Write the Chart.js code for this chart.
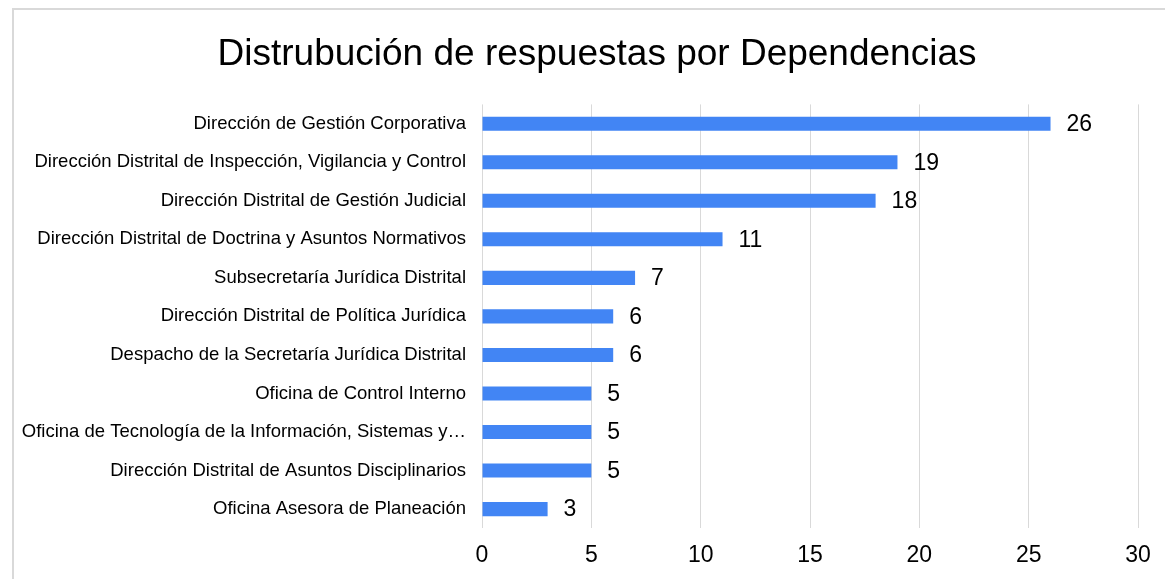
<!DOCTYPE html>
<html>
<head>
<meta charset="utf-8">
<script src="https://cdn.jsdelivr.net/npm/chart.js@4"></script>
<style>
	html, body { margin: 0; padding: 0; background: #fff; overflow: hidden; }
	.frame { position: absolute; left: 12px; top: 8px; width: 1200px; height: 620px; border: 2px solid #d9d9d9; box-sizing: border-box; }
	.chart { position: absolute; left: 0; top: 0; width: 1165px; height: 579px; }
</style>
</head>
<body>
<div class="frame"></div>
<div class="chart"><canvas id="chart" width="1165" height="579"></canvas></div>
<script>
	'use strict';

	const chartTitle = 'Distrubución de respuestas por Dependencias';

	const dependencias = [
		'Dirección de Gestión Corporativa',
		'Dirección Distrital de Inspección, Vigilancia y Control',
		'Dirección Distrital de Gestión Judicial',
		'Dirección Distrital de Doctrina y Asuntos Normativos',
		'Subsecretaría Jurídica Distrital',
		'Dirección Distrital de Política Jurídica',
		'Despacho de la Secretaría Jurídica Distrital',
		'Oficina de Control Interno',
		'Oficina de Tecnología de la Información, Sistemas y…',
		'Dirección Distrital de Asuntos Disciplinarios',
		'Oficina Asesora de Planeación'
	];

	const respuestas = [26, 19, 18, 11, 7, 6, 6, 5, 5, 5, 3];

	const xTicks = [0, 5, 10, 15, 20, 25, 30];

	const fontFamily = "'Liberation Sans', Arial, sans-serif";

	// value labels to the right of each bar
	const valueLabels = {
		id: 'valueLabels',
		afterDatasetsDraw(chart) {
			const ctx = chart.ctx;
			const meta = chart.getDatasetMeta(0);
			ctx.save();
			ctx.font = '23px ' + fontFamily;
			ctx.fillStyle = '#000';
			ctx.textAlign = 'left';
			ctx.textBaseline = 'middle';
			meta.data.forEach(function(bar, i) {
				ctx.fillText(String(respuestas[i]), bar.x + 16, bar.y + 1);
			});
			ctx.restore();
		}
	};

	// the title is centred on the whole frame, not only up to the plot's right edge
	const widenTitle = {
		id: 'widenTitle',
		afterLayout(chart) {
			const block = chart.titleBlock;
			if (block) {
				block.left = 0;
				block.right = 1194;
				block.width = 1194;
			}
		}
	};

	new Chart(document.getElementById('chart'), {
		type: 'bar',
		data: {
			labels: dependencias,
			datasets: [{
				data: respuestas,
				backgroundColor: '#4285f4',
				borderWidth: 0,
				barPercentage: 0.365,
				categoryPercentage: 1
			}]
		},
		plugins: [valueLabels, widenTitle],
		options: {
			indexAxis: 'y',
			responsive: false,
			animation: false,
			layout: {
				padding: { left: 0, right: 27, top: 0, bottom: -3 }
			},
			plugins: {
				legend: { display: false },
				tooltip: { enabled: false },
				title: {
					display: true,
					text: chartTitle,
					color: '#000',
					font: { family: fontFamily, size: 37, weight: 'normal' },
					padding: { top: 33, bottom: 27 }
				}
			},
			scales: {
				x: {
					min: 0,
					max: 30,
					afterBuildTicks: function(scale) {
						scale.ticks = xTicks.map(function(v) { return { value: v }; });
					},
					grid: {
						color: '#d9d9d9',
						lineWidth: 1,
						drawTicks: false
					},
					border: { display: false },
					ticks: {
						color: '#000',
						padding: 13,
						font: { family: fontFamily, size: 23 }
					}
				},
				y: {
					afterFit: function(scale) {
						scale.width = 482;
					},
					grid: { display: false, drawTicks: false },
					border: { display: false },
					ticks: {
						color: '#000',
						padding: 16,
						autoSkip: false,
						font: { family: fontFamily, size: 18.5 }
					}
				}
			}
		}
	});
</script>
</body>
</html>
